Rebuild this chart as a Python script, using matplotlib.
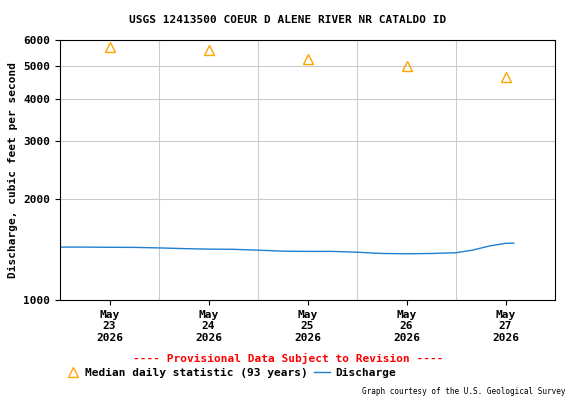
import matplotlib
matplotlib.use("Agg")
import matplotlib.pyplot as plt
from matplotlib.ticker import FixedLocator, NullLocator

# discharge, hours since May 23 00:00
q_hours = [0, 6, 12, 18, 24, 30, 36, 42, 48, 54, 60, 66, 72, 78, 84, 90, 96, 100, 104, 108, 110]
q_vals = [1440, 1440, 1438, 1437, 1432, 1425, 1420, 1418, 1410, 1400, 1398, 1398,
          1390, 1378, 1375, 1378, 1385, 1410, 1450, 1478, 1480]

# median daily statistic at noon of each day
med_hours = [12, 36, 60, 84, 108]
med_vals = [5700, 5600, 5250, 5000, 4650]

day_labels = ["May\n23\n2026", "May\n24\n2026", "May\n25\n2026", "May\n26\n2026", "May\n27\n2026"]
y_ticks = [1000, 2000, 3000, 4000, 5000, 6000]

plt.rcParams['font.family'] = 'DejaVu Sans Mono'
plt.rcParams['font.weight'] = 'bold'

fig = plt.figure(figsize=(5.76, 4), dpi=100)
ax = fig.add_axes([60/576, 100/400, 495/576, 260/400])

ax.plot(q_hours, q_vals, color="#1f7fd0", lw=1, label="Discharge")
ax.plot(med_hours, med_vals, linestyle="none", marker="^", mfc="none",
        mec="#ffa500", ms=7, mew=1, label="Median daily statistic (93 years)")

ax.set_yscale("log")
ax.set_ylim(1000, 6000)
ax.set_xlim(0, 120)
ax.yaxis.set_major_locator(FixedLocator(y_ticks))
ax.yaxis.set_minor_locator(NullLocator())
ax.set_yticklabels([str(v) for v in y_ticks], fontsize=8, fontweight="bold")
ax.set_xticks(med_hours)
ax.set_xticklabels(day_labels, fontsize=8, fontweight="bold")
ax.set_xticks([24, 48, 72, 96], minor=True)
ax.tick_params(axis="x", which="minor", length=0)
ax.grid(True, which="minor", axis="x", color="#cccccc", lw=0.8)
ax.grid(True, which="major", axis="y", color="#cccccc", lw=0.8)
ax.set_ylabel("Discharge, cubic feet per second", fontsize=8, fontweight="bold")

fig.text(0.5, 380/400, "USGS 12413500 COEUR D ALENE RIVER NR CATALDO ID",
         ha="center", va="center", fontsize=8, fontweight="bold")
fig.text(0.5, 42/400, "---- Provisional Data Subject to Revision ----",
         ha="center", va="center", fontsize=8, fontweight="bold", color="red")
handles, labels = ax.get_legend_handles_labels()
fig.legend(handles[::-1], labels[::-1], loc="center", bbox_to_anchor=(230/576, 27/400),
           ncol=2, frameon=False, fontsize=8, handlelength=1.5, columnspacing=0.5,
           handletextpad=0.4)
fig.text(565/576, 9/400, "Graph courtesy of the U.S. Geological Survey",
         ha="right", va="center", fontsize=5.5, fontweight="normal")

fig.savefig("out.png", dpi=100)
